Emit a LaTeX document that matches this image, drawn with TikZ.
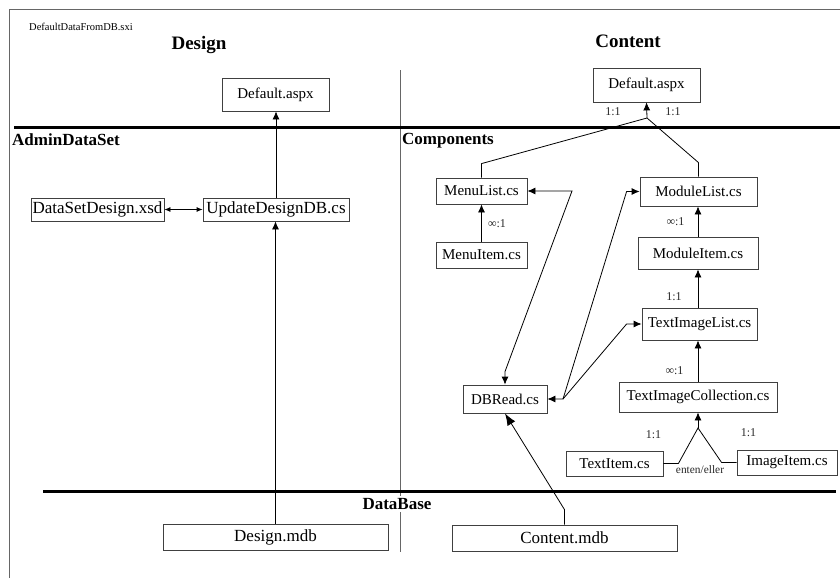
\documentclass[tikz,border=0pt]{standalone}
\usepackage{fontspec}
\setmainfont{Liberation Serif}
\usetikzlibrary{arrows.meta}

\tikzstyle{file}=[draw=black!75, line width=0.8pt, inner sep=0pt, font=\fontsize{15}{18}\selectfont]
\tikzstyle{bigfile}=[file, font=\fontsize{17}{20}\selectfont]
\tikzstyle{title}=[inner sep=0pt, font=\fontsize{19}{22}\selectfont\bfseries]
\tikzstyle{section}=[inner sep=0pt, font=\fontsize{17}{20}\selectfont\bfseries]
\tikzstyle{ratio}=[inner sep=0pt, font=\fontsize{12}{14}\selectfont, text=black!85]
\tikzstyle{plain}=[draw, line width=0.8pt, -]
\tikzstyle{link}=[draw, line width=0.8pt, -{Latex[length=8pt,width=7pt]}]
\tikzstyle{both link}=[draw, line width=0.8pt, {Latex[length=8pt,width=7pt]}-{Latex[length=8pt,width=7pt]}]
\tikzstyle{big link}=[draw, line width=0.8pt, -{Latex[length=12pt,width=9pt]}]
\tikzstyle{rule}=[draw, line width=3pt]
\tikzstyle{frame}=[draw, black!60, line width=1pt]

\begin{document}
\begin{tikzpicture}[x=1pt, y=-1pt]
	    \useasboundingbox (0,0) rectangle (840,578);
	    \path[frame] (9,578) -- (9,10) -- (840,10);
	    \path[frame] (400,70) -- (400,552);
	    \path[rule] (14,127) -- (840,127);
	    \path[rule] (43,491) -- (836,491);

	    % headings
	    \node[anchor=base west, inner sep=0pt, font=\fontsize{10.5}{12}\selectfont] (sxi) at (29,31) {DefaultDataFromDB.sxi};
	    \node[title, anchor=base] (design) at (199,49) {Design};
	    \node[title, anchor=base] (content) at (628,48) {Content};
	    \node[section, anchor=base west] (admin) at (12,145) {AdminDataSet};
	    \node[section, anchor=base west] (components) at (402,144) {Components};
	    \node[section, fill=white, inner sep=2pt] (database) at (397,504) {DataBase};

	    % files
	    \foreach \pos/\w/\h/\name/\text in {{(275.5,94.5)/107/33/defL/Default.aspx}, {(646.5,85)/107/34/defR/Default.aspx},
	        {(481.5,191)/91/26/menulist/MenuList.cs}, {(481.5,255)/91/26/menuitem/MenuItem.cs},
	        {(698.5,191.5)/117/29/modlist/ModuleList.cs}, {(698,253)/120/32/moditem/ModuleItem.cs},
	        {(699.5,324)/115/32/til/TextImageList.cs}, {(698,397)/158/30/tic/TextImageCollection.cs},
	        {(505,399)/84/28/dbread/DBRead.cs}, {(614.5,463.5)/97/25/textitem/TextItem.cs},
	        {(787,462.5)/100/25/imageitem/ImageItem.cs}}
	        \node[file, minimum width=\w pt, minimum height=\h pt] (\name) at \pos {\text};
	    \foreach \pos/\w/\h/\name/\text in {{(97.5,209.5)/133/23/dsd/DataSetDesign.xsd}, {(276,209.5)/146/23/upd/UpdateDesignDB.cs},
	        {(275.5,537)/225/26/dmdb/Design.mdb}, {(564.5,538)/225/26/cmdb/Content.mdb}}
	        \node[bigfile, minimum width=\w pt, minimum height=\h pt] (\name) at \pos {\text};

	    % ratios
	    \foreach \pos/\text in {{(613,112)/1:1}, {(673,112)/1:1}, {(497,224)/∞:1}, {(675.5,222)/∞:1},
	        {(674,297)/1:1}, {(674.5,371)/∞:1}, {(653.5,435)/1:1}, {(748.5,433)/1:1}}
	        \node[ratio] at \pos {\text};
	    \node[ratio, font=\fontsize{11.4}{13}\selectfont] (either) at (700,470) {enten/eller};

	    % design side
	    \path[link] (upd.north) -- (upd.north |- defL.south);
	    \path[link] (dmdb.north) -- (dmdb.north |- upd.south);
	    \path[draw, line width=0.8pt, {Latex[length=6pt,width=5pt]}-{Latex[length=6pt,width=5pt]}] (dsd.east) -- (upd.west);

	    % content side
	    \coordinate (j) at (647,118);
	    \coordinate (k) at (698,428);
	    \coordinate (d) at (563,399);
	    \path[link] (j) -- (defR.south);
	    \path[plain] (menulist.north) -- ++(0,-14) -- (j) -- ([yshift=14pt]modlist.north) -- (modlist.north);
	    \path[link] (menuitem) -- (menulist);
	    \path[link] (moditem.north) -- (moditem.north |- modlist.south);
	    \path[link] (moditem.south |- til.north) -- (moditem.south);
	    \path[link] (tic.north) -- (tic.north |- til.south);
	    \path[plain] (textitem.east) -- ++(15,0) -- (k) -- ([xshift=-15pt]imageitem.west) -- (imageitem.west);
	    \path[link] (k) -- (tic.south);
	    \path[both link] (menulist.east) -- (572,191) -- ([yshift=13pt]dbread.north) -- (dbread.north);
	    \path[both link] (modlist.west) -- ++(-13,0) -- (d) -- (dbread.east);
	    \path[link] (d) -- ([xshift=-15pt]til.west) -- (til.west);
	    \path[big link] (cmdb.north) -- ++(0,-15) -- (dbread.south);
	\end{tikzpicture}
\end{document}
